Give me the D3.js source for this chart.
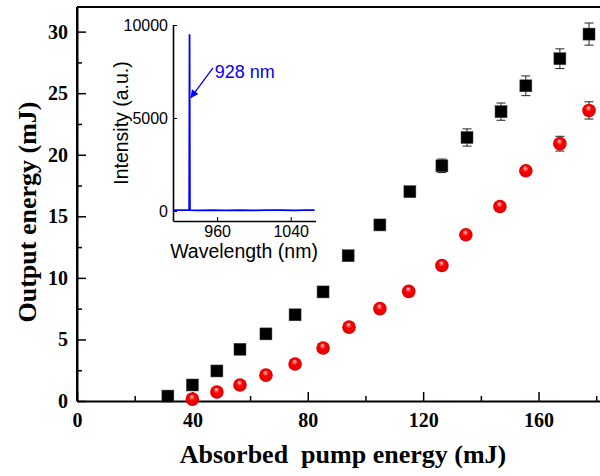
<!DOCTYPE html>
<html>
<head>
<meta charset="utf-8">
<script src="https://cdn.jsdelivr.net/npm/d3@7"></script>
<style>
  body { margin: 0; background: #fff; }
  svg { display: block; }
</style>
</head>
<body>
<svg id="chart" width="600" height="476"></svg>
<script>
// black squares
var sqX = [31.5, 40, 48.5, 56.5, 65.5, 75.6, 85.3, 94, 105, 115.4, 126.5, 135.2, 147, 155.6, 167.4, 177.5];
var sqY = [0.4, 1.3, 2.44, 4.2, 5.45, 7.0, 8.86, 11.8, 14.3, 17.0, 19.1, 21.4, 23.5, 25.6, 27.8, 29.8];
var sqErr = [0, 0, 0, 0, 0, 0, 0, 0, 0.25, 0.4, 0.55, 0.7, 0.7, 0.8, 0.8, 0.9];

// red spheres
var rdX = [40, 48.5, 56.5, 65.5, 75.6, 85.3, 94.3, 105, 115, 126.5, 134.8, 146.6, 155.6, 167.4, 177.5];
var rdY = [0.15, 0.73, 1.3, 2.1, 3.0, 4.3, 6.0, 7.5, 8.9, 11.0, 13.5, 15.8, 18.7, 20.9, 23.6];
var rdErr = [0, 0, 0, 0, 0, 0, 0, 0, 0, 0, 0, 0, 0.3, 0.6, 0.7];

// inset spectrum
var specWl = [913, 925, 940, 955, 970, 985, 1000, 1015, 1030, 1045, 1055, 1066];
var specInt = [40, 50, 30, 45, 35, 50, 30, 45, 40, 35, 50, 45];
var peakWl = [929.6, 930, 930.4];
var peakInt = [50, 9500, 50];

var xTicks = [0, 40, 80, 120, 160];
var xMinor = [20, 60, 100, 140, 180];
var yTicks = [0, 5, 10, 15, 20, 25, 30];
var yMinor = [2.5, 7.5, 12.5, 17.5, 22.5, 27.5];
var inXTicks = [960, 1040];
var inYTicks = [0, 5000, 10000];

var svg = d3.select('#chart');
var serif = '"Liberation Serif", "Times New Roman", serif';
var sans = '"Liberation Sans", Arial, sans-serif';

var defs = svg.append('defs');
var grad = defs.append('radialGradient')
    .attr('id', 'ball')
    .attr('cx', '50%').attr('cy', '50%').attr('r', '55%')
    .attr('fx', '45%').attr('fy', '28%');
grad.append('stop').attr('offset', '0%').attr('stop-color', '#ffffff');
grad.append('stop').attr('offset', '15%').attr('stop-color', '#ff8080');
grad.append('stop').attr('offset', '40%').attr('stop-color', '#ff0000');
grad.append('stop').attr('offset', '100%').attr('stop-color', '#d80000');

defs.append('marker')
    .attr('id', 'arrow')
    .attr('viewBox', '0 0 10 10')
    .attr('refX', 9).attr('refY', 5)
    .attr('markerWidth', 9).attr('markerHeight', 8)
    .attr('markerUnits', 'userSpaceOnUse')
    .attr('orient', 'auto')
    .append('path')
    .attr('d', 'M0,0L10,5L0,10z')
    .attr('fill', '#0000ff');

// main scales
var x = d3.scaleLinear().domain([0, 182]).range([77, 602]);
var y = d3.scaleLinear().domain([0, 32]).range([401, 7]);

// frame line on top and right
svg.append('path')
    .attr('d', 'M' + x(0) + ',' + y(32) + 'H' + x(182) + 'V' + y(0))
    .attr('fill', 'none').attr('stroke', '#000').attr('stroke-width', 2);

function styleAxis(g, font, size, weight) {
    g.select('.domain').attr('stroke', '#000').attr('stroke-width', 2);
    g.selectAll('.tick line').attr('stroke', '#000').attr('stroke-width', 1.5);
    g.selectAll('.tick text')
        .attr('fill', '#000')
        .style('font-family', font)
        .style('font-size', size + 'px')
        .style('font-weight', weight);
}

var xAxisG = svg.append('g')
    .attr('transform', 'translate(0,' + y(0) + ')')
    .call(d3.axisBottom(x).tickValues(xTicks).tickSizeInner(-9).tickSizeOuter(0).tickPadding(12));
styleAxis(xAxisG, serif, 20, 'bold');
var xMinorG = svg.append('g')
    .attr('transform', 'translate(0,' + y(0) + ')')
    .call(d3.axisBottom(x).tickValues(xMinor).tickSize(-5).tickFormat(''));
xMinorG.select('.domain').remove();
xMinorG.selectAll('.tick line').attr('stroke', '#000').attr('stroke-width', 1.5);

var yAxisG = svg.append('g')
    .attr('transform', 'translate(' + x(0) + ',0)')
    .call(d3.axisLeft(y).tickValues(yTicks).tickSizeInner(-9).tickSizeOuter(0).tickPadding(9));
styleAxis(yAxisG, serif, 20, 'bold');
var yMinorG = svg.append('g')
    .attr('transform', 'translate(' + x(0) + ',0)')
    .call(d3.axisLeft(y).tickValues(yMinor).tickSize(-5).tickFormat(''));
yMinorG.select('.domain').remove();
yMinorG.selectAll('.tick line').attr('stroke', '#000').attr('stroke-width', 1.5);
// extend left axis to top
svg.append('line')
    .attr('x1', x(0)).attr('x2', x(0)).attr('y1', y(0)).attr('y2', y(32))
    .attr('stroke', '#000').attr('stroke-width', 2);

// axis titles
svg.append('text')
    .attr('x', 343).attr('y', 463)
    .attr('text-anchor', 'middle')
    .style('font-family', serif).style('font-size', '26px').style('font-weight', 'bold')
    .style('white-space', 'pre')
    .text('Absorbed  pump energy (mJ)');
svg.append('text')
    .attr('transform', 'translate(36,212) rotate(-90)')
    .attr('text-anchor', 'middle')
    .style('font-family', serif).style('font-size', '26px').style('font-weight', 'bold')
    .text('Output energy (mJ)');

// error bars
function errBars(xs, ys, errs) {
    var g = svg.append('g');
    xs.forEach(function(d, i) {
        if (!errs[i]) return;
        var cx = x(d), y0 = y(ys[i] - errs[i]), y1 = y(ys[i] + errs[i]);
        g.append('line').attr('x1', cx).attr('x2', cx).attr('y1', y0).attr('y2', y1)
            .attr('stroke', '#222').attr('stroke-width', 1);
        [y0, y1].forEach(function(yy) {
            g.append('line').attr('x1', cx - 4.5).attr('x2', cx + 4.5).attr('y1', yy).attr('y2', yy)
                .attr('stroke', '#222').attr('stroke-width', 1);
        });
    });
}
errBars(sqX, sqY, sqErr);
errBars(rdX, rdY, rdErr);

svg.append('g').selectAll('rect')
    .data(sqX)
    .enter().append('rect')
    .attr('x', function(d) { return x(d) - 6; })
    .attr('y', function(d, i) { return y(sqY[i]) - 6; })
    .attr('width', 12).attr('height', 12)
    .attr('fill', '#000')
    .attr('stroke', '#444').attr('stroke-width', 0.5);

svg.append('g').selectAll('circle')
    .data(rdX)
    .enter().append('circle')
    .attr('cx', function(d) { return x(d); })
    .attr('cy', function(d, i) { return y(rdY[i]); })
    .attr('r', 6.8)
    .attr('fill', 'url(#ball)');

// inset
var xi = d3.scaleLinear().domain([912, 1067]).range([173, 315.5]);
var yi = d3.scaleLinear().domain([-540, 10000]).range([221, 25]);

var inXG = svg.append('g')
    .attr('transform', 'translate(0,' + yi(-540) + ')')
    .call(d3.axisBottom(xi).tickValues(inXTicks).tickFormat(d3.format('d'))
        .tickSizeInner(-4).tickSizeOuter(0).tickPadding(5));
styleAxis(inXG, sans, 16, 'normal');
inXG.select('.domain').attr('stroke-width', 1.6);
inXG.selectAll('.tick line').attr('stroke-width', 1);

var inYG = svg.append('g')
    .attr('transform', 'translate(' + xi(912) + ',0)')
    .call(d3.axisLeft(yi).tickValues(inYTicks).tickFormat(d3.format('d'))
        .tickSizeInner(-4).tickSizeOuter(0).tickPadding(5));
styleAxis(inYG, sans, 16, 'normal');
inYG.select('.domain').attr('stroke-width', 1.6);
inYG.selectAll('.tick line').attr('stroke-width', 1);

svg.append('text')
    .attr('x', 244).attr('y', 258)
    .attr('text-anchor', 'middle')
    .style('font-family', sans).style('font-size', '19.5px')
    .text('Wavelength (nm)');
svg.append('text')
    .attr('transform', 'translate(128,123) rotate(-90)')
    .attr('text-anchor', 'middle')
    .style('font-family', sans).style('font-size', '19.5px')
    .text('Intensity (a.u.)');

var line = d3.line()
    .x(function(d) { return xi(d[0]); })
    .y(function(d) { return yi(d[1]); });
var spec = d3.zip(specWl, specInt);
var peak = d3.zip(peakWl, peakInt);
var all = spec.concat(peak).sort(function(a, b) { return a[0] - b[0]; });
svg.append('path')
    .datum(all)
    .attr('d', line)
    .attr('fill', 'none')
    .attr('stroke', '#0000ff')
    .attr('stroke-width', 1.8);

svg.append('line')
    .attr('x1', xi(955.5)).attr('y1', yi(7700))
    .attr('x2', xi(931.5)).attr('y2', yi(6100))
    .attr('stroke', '#0000ff').attr('stroke-width', 1.3)
    .attr('marker-end', 'url(#arrow)');
svg.append('text')
    .attr('x', xi(957.5)).attr('y', 78)
    .attr('fill', '#0000ff')
    .style('font-family', sans).style('font-size', '18px')
    .text('928 nm');
</script>
</body>
</html>
